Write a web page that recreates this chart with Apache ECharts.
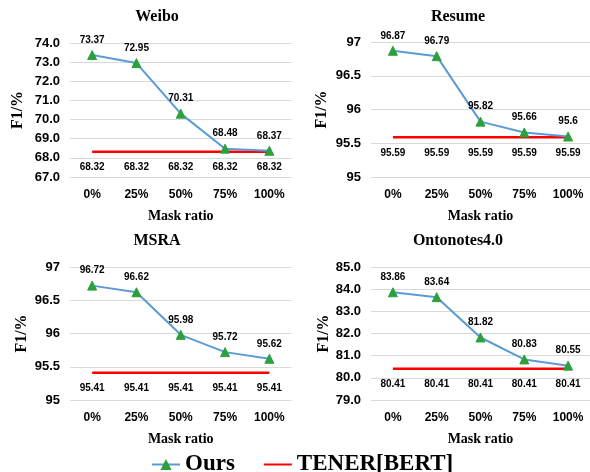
<!DOCTYPE html>
<html>
<head>
<meta charset="utf-8">
<script src="https://cdn.jsdelivr.net/npm/echarts@6/dist/echarts.min.js"></script>
<style>
  html, body { margin: 0; padding: 0; background: #fff; }
  #chart { width: 590px; height: 472px; }
</style>
</head>
<body>
<div id="chart"></div>
<script>
// Mask ratio categories shared by all four panels
const maskRatios = ['0%', '25%', '50%', '75%', '100%'];

// F1 scores of our model per dataset
const weiboOurs = [73.37, 72.95, 70.31, 68.48, 68.37];
const resumeOurs = [96.87, 96.79, 95.82, 95.66, 95.6];
const msraOurs = [96.72, 96.62, 95.98, 95.72, 95.62];
const ontoOurs = [83.86, 83.64, 81.82, 80.83, 80.55];

// TENER[BERT] baseline (constant across mask ratios)
const weiboTener = [68.32, 68.32, 68.32, 68.32, 68.32];
const resumeTener = [95.59, 95.59, 95.59, 95.59, 95.59];
const msraTener = [95.41, 95.41, 95.41, 95.41, 95.41];
const ontoTener = [80.41, 80.41, 80.41, 80.41, 80.41];

const datasetNames = ['Weibo', 'Resume', 'MSRA', 'Ontonotes4.0'];
const yRanges = [[67, 74, 1], [95, 97, 0.5], [95, 97, 0.5], [79, 85, 1]];
const yDecimals = [1, null, null, 1];

const panels = [
  { ours: weiboOurs, tener: weiboTener },
  { ours: resumeOurs, tener: resumeTener },
  { ours: msraOurs, tener: msraTener },
  { ours: ontoOurs, tener: ontoTener }
];

const serif = '"Liberation Serif", "Times New Roman", serif';
const sans = '"Liberation Sans", Arial, sans-serif';

const grids = [
  { left: 70, top: 43, width: 221.5, height: 134 },
  { left: 371, top: 42, width: 221, height: 135 },
  { left: 70, top: 267, width: 221.5, height: 133 },
  { left: 371, top: 267, width: 221, height: 133 }
];
const titlePos = [[152, 4], [453, 4], [152, 228], [453, 228]];
const yNameGaps = [44, 41, 40, 39];

const chart = echarts.init(document.getElementById('chart'), null, { renderer: 'canvas' });

const option = {
  animation: false,
  backgroundColor: '#fff',
  title: datasetNames.map((n, i) => ({
    text: n,
    left: titlePos[i][0],
    top: titlePos[i][1],
    textAlign: 'center',
    textStyle: { fontFamily: serif, fontWeight: 'bold', fontSize: 16, color: '#000' }
  })),
  legend: {
    left: 146,
    top: 448,
    itemWidth: 28,
    itemHeight: 14,
    itemGap: 28,
    textStyle: { fontFamily: serif, fontWeight: 'bold', fontSize: 23, color: '#000' },
    data: ['Ours', 'TENER[BERT]']
  },
  grid: grids,
  xAxis: grids.map((g, i) => ({
    type: 'category',
    gridIndex: i,
    data: maskRatios,
    boundaryGap: true,
    name: 'Mask ratio',
    nameLocation: 'middle',
    nameGap: 32,
    nameTextStyle: { fontFamily: serif, fontWeight: 'bold', fontSize: 14, color: '#000' },
    axisLine: { show: false },
    axisTick: { show: false },
    axisLabel: { fontFamily: sans, fontWeight: 'bold', fontSize: 12, color: '#000', margin: 12 }
  })),
  yAxis: grids.map((g, i) => ({
    type: 'value',
    gridIndex: i,
    min: yRanges[i][0],
    max: yRanges[i][1],
    interval: yRanges[i][2],
    name: 'F1/%',
    nameLocation: 'middle',
    nameGap: yNameGaps[i],
    nameRotate: 90,
    nameTextStyle: { fontFamily: serif, fontWeight: 'bold', fontSize: 16, color: '#000' },
    axisLine: { show: false },
    axisTick: { show: false },
    splitLine: { lineStyle: { color: '#d9d9d9', width: 1 } },
    axisLabel: {
      fontFamily: sans, fontWeight: 'bold', fontSize: 13, color: '#000', margin: 10,
      formatter: v => yDecimals[i] ? v.toFixed(yDecimals[i]) : String(v)
    }
  })),
  series: panels.flatMap((p, i) => [
    {
      name: 'TENER[BERT]',
      type: 'line',
      xAxisIndex: i,
      yAxisIndex: i,
      data: p.tener,
      symbol: 'circle',
      symbolSize: 4,
      lineStyle: { color: '#ff0000', width: 2.5 },
      itemStyle: { color: 'rgba(255,0,0,0)', borderWidth: 0 },
      label: {
        show: true, position: 'bottom', distance: 9,
        fontFamily: sans, fontWeight: 'bold', fontSize: 10, color: '#000'
      },
      z: 2
    },
    {
      name: 'Ours',
      type: 'line',
      xAxisIndex: i,
      yAxisIndex: i,
      data: p.ours,
      symbol: 'triangle',
      symbolSize: 9,
      lineStyle: { color: '#5b9bd5', width: 2 },
      itemStyle: { color: '#2ca03c', borderColor: '#2ca03c' },
      label: {
        show: true, position: 'top', distance: 5,
        fontFamily: sans, fontWeight: 'bold', fontSize: 10, color: '#000'
      },
      z: 3
    }
  ])
};

chart.setOption(option);
</script>
</body>
</html>
